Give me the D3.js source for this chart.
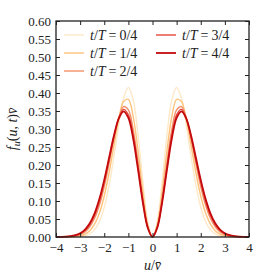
<!DOCTYPE html>
<html>
<head>
<meta charset="utf-8">
<script src="https://cdn.jsdelivr.net/npm/d3@7"></script>
<style>
  body { margin: 0; background: #fff; }
  svg text { font-family: "Liberation Serif", serif; fill: #222; }
</style>
</head>
<body>
<div id="chart"></div>
<script>
// u / v-bar grid
const uValues = [-4, -3.8, -3.6, -3.4, -3.2, -3, -2.8, -2.6, -2.4, -2.2, -2, -1.8, -1.6, -1.4, -1.2, -1, -0.8, -0.6, -0.4, -0.2,
  0, 0.2, 0.4, 0.6, 0.8, 1, 1.2, 1.4, 1.6, 1.8, 2, 2.2, 2.4, 2.6, 2.8, 3, 3.2, 3.4, 3.6, 3.8, 4];

// f_u(u,t) v-bar, one array per time step
const f0 = [0, 0, 0, 0.0001, 0.0004, 0.0013, 0.0035, 0.0088, 0.0205, 0.0432, 0.0827, 0.1432, 0.2233, 0.3115, 0.3850, 0.4151, 0.3808, 0.2834, 0.1539, 0.0434,
  0, 0.0434, 0.1539, 0.2834, 0.3808, 0.4151, 0.3850, 0.3115, 0.2233, 0.1432, 0.0827, 0.0432, 0.0205, 0.0088, 0.0035, 0.0013, 0.0004, 0.0001, 0, 0, 0];
const f1 = [0, 0.0001, 0.0002, 0.0005, 0.0013, 0.0034, 0.0080, 0.0177, 0.0358, 0.0667, 0.1140, 0.1782, 0.2537, 0.3265, 0.3762, 0.3824, 0.3342, 0.2396, 0.1266, 0.0351,
  0, 0.0351, 0.1266, 0.2396, 0.3342, 0.3824, 0.3762, 0.3265, 0.2537, 0.1782, 0.1140, 0.0667, 0.0358, 0.0177, 0.0080, 0.0034, 0.0013, 0.0005, 0.0002, 0.0001, 0];
const f2 = [0.0001, 0.0002, 0.0005, 0.0012, 0.0030, 0.0067, 0.0143, 0.0283, 0.0521, 0.0889, 0.1403, 0.2039, 0.2719, 0.3304, 0.3622, 0.3529, 0.2980, 0.2079, 0.1078, 0.0296,
  0, 0.0296, 0.1078, 0.2079, 0.2980, 0.3529, 0.3622, 0.3304, 0.2719, 0.2039, 0.1403, 0.0889, 0.0521, 0.0283, 0.0143, 0.0067, 0.0030, 0.0012, 0.0005, 0.0002, 0.0001];
const f3 = [0.0001, 0.0003, 0.0007, 0.0017, 0.0041, 0.0088, 0.0179, 0.0340, 0.0602, 0.0992, 0.1515, 0.2139, 0.2778, 0.3298, 0.3545, 0.3395, 0.2827, 0.1952, 0.1004, 0.0274,
  0, 0.0274, 0.1004, 0.1952, 0.2827, 0.3395, 0.3545, 0.3298, 0.2778, 0.2139, 0.1515, 0.0992, 0.0602, 0.0340, 0.0179, 0.0088, 0.0041, 0.0017, 0.0007, 0.0003, 0.0001];
const f4 = [0.0001, 0.0004, 0.0009, 0.0022, 0.0049, 0.0104, 0.0206, 0.0381, 0.0658, 0.1060, 0.1587, 0.2200, 0.2811, 0.3289, 0.3490, 0.3308, 0.2730, 0.1872, 0.0958, 0.0261,
  0, 0.0261, 0.0958, 0.1872, 0.2730, 0.3308, 0.3490, 0.3289, 0.2811, 0.2200, 0.1587, 0.1060, 0.0658, 0.0381, 0.0206, 0.0104, 0.0049, 0.0022, 0.0009, 0.0004, 0.0001];

const seriesLabels = ["0/4", "1/4", "2/4", "3/4", "4/4"];
const colors = ["#fde8c8", "#fdc37c", "#f2906a", "#e6463a", "#c30a0c"];
const xTicks = [-4, -3, -2, -1, 0, 1, 2, 3, 4];
const yTicks = [0, 0.05, 0.1, 0.15, 0.2, 0.25, 0.3, 0.35, 0.4, 0.45, 0.5, 0.55, 0.6];

const series = [f0, f1, f2, f3, f4];

const W = 262, H = 280;
const margin = { top: 21, right: 13, bottom: 43, left: 56 };
const width = W - margin.left - margin.right;
const height = H - margin.top - margin.bottom;
const FONT = "'Liberation Serif', serif";

const svg = d3.select("#chart").append("svg")
  .attr("width", W)
  .attr("height", H)
  .attr("font-family", FONT);

const g = svg.append("g")
  .attr("transform", `translate(${margin.left},${margin.top})`);

const x = d3.scaleLinear().domain([-4, 4]).range([0, width]);
const y = d3.scaleLinear().domain([0, 0.6]).range([height, 0]);

// curves
const line = d3.line()
  .x((d, i) => x(uValues[i]))
  .y(d => y(d))
  .curve(d3.curveCatmullRom);

g.selectAll("path.curve")
  .data(series)
  .join("path")
  .attr("class", "curve")
  .attr("fill", "none")
  .attr("stroke", (d, i) => colors[i])
  .attr("stroke-width", (d, i) => i === 4 ? 1.8 : 1.4)
  .attr("d", line);

// axes, ticks pointing inward
const fontSize = 13;
g.append("g")
  .attr("transform", `translate(0,${height})`)
  .call(d3.axisBottom(x).tickValues(xTicks).tickSizeInner(-4).tickSizeOuter(0).tickPadding(6));
g.append("g")
  .call(d3.axisLeft(y).tickValues(yTicks).tickFormat(d3.format(".2f")).tickSizeInner(-4).tickSizeOuter(0).tickPadding(5));
g.append("g")
  .call(d3.axisTop(x).tickValues(xTicks).tickFormat("").tickSizeInner(-4).tickSizeOuter(0));
g.append("g")
  .attr("transform", `translate(${width},0)`)
  .call(d3.axisRight(y).tickValues(yTicks).tickFormat("").tickSizeInner(-4).tickSizeOuter(0));

g.selectAll("g").attr("font-family", FONT).attr("font-size", fontSize);
g.selectAll(".domain").remove();
g.selectAll(".tick line").attr("stroke", "#222").attr("stroke-width", 1);
g.selectAll(".tick text").attr("fill", "#222");

g.append("rect")
  .attr("width", width)
  .attr("height", height)
  .attr("fill", "none")
  .attr("stroke", "#222")
  .attr("stroke-width", 1.3);

// axis labels
svg.append("text")
  .attr("x", margin.left + width / 2)
  .attr("y", 270)
  .attr("text-anchor", "middle")
  .attr("font-size", 14)
  .html('<tspan font-style="italic">u</tspan>/<tspan font-style="italic">v\u0304</tspan>');

svg.append("text")
  .attr("transform", `translate(17,${margin.top + height / 2}) rotate(-90)`)
  .attr("text-anchor", "middle")
  .attr("font-size", 14)
  .html('<tspan font-style="italic">f</tspan><tspan font-style="italic" font-size="10" dy="3">u</tspan><tspan dy="-3">(</tspan><tspan font-style="italic">u</tspan>, <tspan font-style="italic">t</tspan>)<tspan font-style="italic">v\u0304</tspan>');

// legend, two columns
const legend = g.append("g");
const legendPos = [[8, 14], [8, 32], [8, 50], [100, 14], [100, 32]];
seriesLabels.forEach((lab, i) => {
  const [lx, ly] = legendPos[i];
  legend.append("line")
    .attr("x1", lx).attr("x2", lx + 20)
    .attr("y1", ly).attr("y2", ly)
    .attr("stroke", colors[i])
    .attr("stroke-width", i === 4 ? 1.8 : 1.4);
  legend.append("text")
    .attr("x", lx + 26)
    .attr("y", ly + 5)
    .attr("font-size", 14)
    .html(`<tspan font-style="italic">t</tspan>/<tspan font-style="italic">T</tspan><tspan dx="3">=</tspan><tspan dx="3">${lab}</tspan>`);
});
</script>
</body>
</html>
